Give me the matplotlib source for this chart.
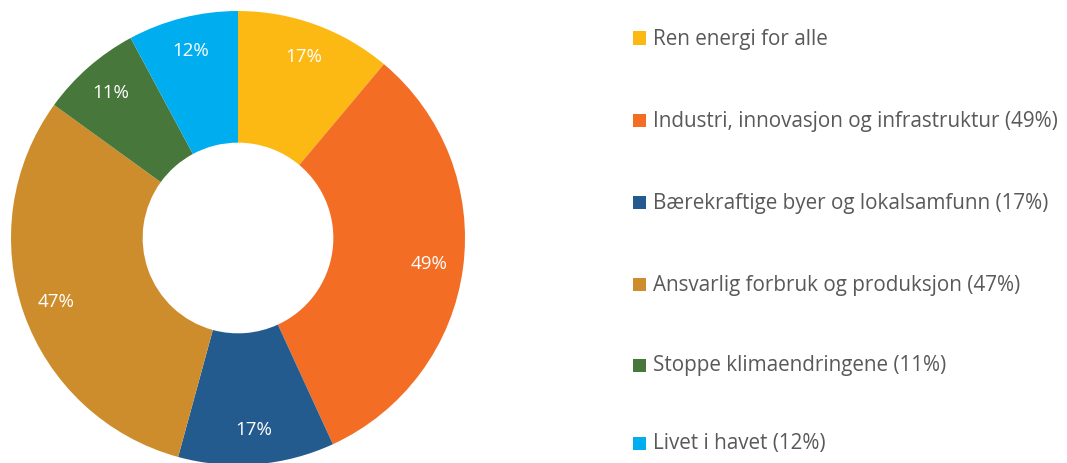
import matplotlib
matplotlib.use('Agg')
from matplotlib import pyplot as plt
from matplotlib.patches import Rectangle

categories = ['Ren energi for alle',
              'Industri, innovasjon og infrastruktur (49%)',
              'Bærekraftige byer og lokalsamfunn (17%)',
              'Ansvarlig forbruk og produksjon (47%)',
              'Stoppe klimaendringene (11%)',
              'Livet i havet (12%)']
values = [17, 49, 17, 47, 11, 12]
colors = ['#FDB913', '#F36D25', '#245B8E', '#CE8D2C', '#48773C', '#00AEEF']

W, H = 1067, 463
fig = plt.figure(figsize=(W / 100, H / 100), dpi=100)
plt.rcParams['font.family'] = ['Open Sans', 'DejaVu Sans']

# donut placement in pixels
cx, cy, r = 238, 238, 227
ax = fig.add_axes([(cx - r) / W, (H - cy - r) / H, 2 * r / W, 2 * r / H])
total = sum(values)
wedges, _, autotexts = ax.pie(
    values, colors=colors, startangle=90, counterclock=False,
    radius=1.0, wedgeprops=dict(width=0.58, linewidth=0),
    autopct=lambda p: f'{p * total / 100:.0f}%', pctdistance=0.85,
    textprops=dict(color='white', fontsize=13.5))
ax.set_xlim(-1, 1)
ax.set_ylim(-1, 1)
ax.set_aspect('equal')
ax.axis('off')

# legend drawn by hand
rows_y = [38, 120, 202, 284, 365, 443]
for name, col, y in zip(categories, colors, rows_y):
    fig.patches.append(Rectangle((633 / W, (H - y - 6.5) / H), 13 / W, 13 / H,
                                 transform=fig.transFigure, facecolor=col,
                                 edgecolor='none'))
    fig.text(653 / W, (H - y - 1) / H, name, color='#595959', fontsize=14.9,
             va='center', ha='left')

fig.savefig('out.png', dpi=100)
